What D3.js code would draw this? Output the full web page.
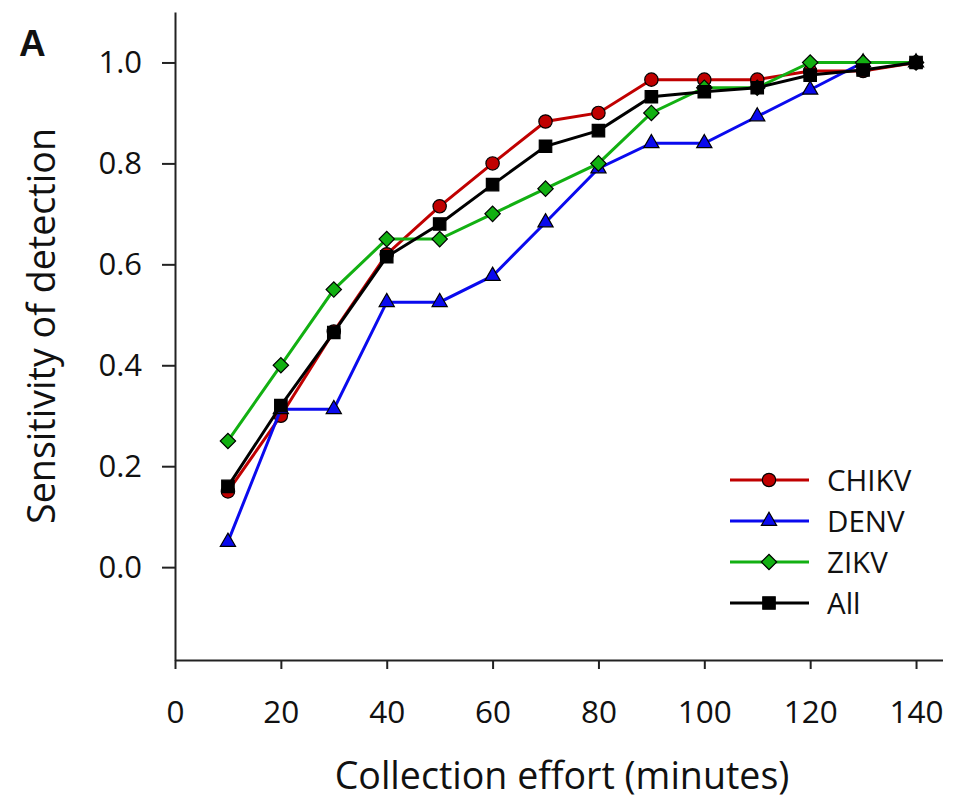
<!DOCTYPE html>
<html>
<head>
<meta charset="utf-8">
<script src="https://cdn.jsdelivr.net/npm/d3@7"></script>
<style>
  body { margin: 0; background: #fff; }
  text { font-family: "Open Sans", sans-serif; fill: #111; }
</style>
</head>
<body>
<svg id="chart" width="959" height="803"></svg>
<script>
// Data
const minutes = [10, 20, 30, 40, 50, 60, 70, 80, 90, 100, 110, 120, 130, 140];
const chikv = [0.15, 0.30, 0.467, 0.62, 0.715, 0.80, 0.883, 0.90, 0.966, 0.966, 0.966, 0.983, 0.983, 1.0];
const denv  = [0.05, 0.313, 0.313, 0.525, 0.525, 0.577, 0.683, 0.79, 0.84, 0.84, 0.893, 0.946, 1.0, 1.0];
const zikv  = [0.25, 0.40, 0.55, 0.65, 0.65, 0.70, 0.75, 0.80, 0.90, 0.95, 0.95, 1.0, 1.0, 1.0];
const all   = [0.16, 0.32, 0.465, 0.615, 0.68, 0.758, 0.834, 0.865, 0.932, 0.942, 0.95, 0.975, 0.985, 1.0];
const xTicks = [0, 20, 40, 60, 80, 100, 120, 140];
const yTicks = [0.0, 0.2, 0.4, 0.6, 0.8, 1.0];

const series = [
    { name: "CHIKV", values: chikv, color: "#c00000", symbol: d3.symbolCircle, size: 140, rot: 0 },
    { name: "DENV",  values: denv,  color: "#0a0aee", symbol: d3.symbolTriangle, size: 100, rot: 0 },
    { name: "ZIKV",  values: zikv,  color: "#12b012", symbol: d3.symbolSquare, size: 118, rot: 45 },
    { name: "All",   values: all,   color: "#000000", symbol: d3.symbolSquare, size: 155, rot: 0 }
];

const svg = d3.select("#chart");

// Scales
const x = d3.scaleLinear().domain([0, 145]).range([175, 942.5]);
const y = d3.scaleLinear().domain([-0.184, 1.1]).range([660, 12]);

// Axes
const xAxis = svg.append("g")
    .attr("transform", "translate(0,660)")
    .call(d3.axisBottom(x).tickValues(xTicks).tickSize(9).tickSizeOuter(0).tickPadding(32));
xAxis.selectAll("text").style("font-size", "31.5px");

const yAxis = svg.append("g")
    .attr("transform", "translate(175,0)")
    .call(d3.axisLeft(y).tickValues(yTicks).tickFormat(d3.format(".1f")).tickSize(13).tickSizeOuter(0).tickPadding(20));
yAxis.selectAll("text").style("font-size", "31px");

svg.selectAll(".domain, .tick line").attr("stroke", "#222").attr("stroke-width", 2);
svg.selectAll(".tick text").attr("fill", "#111");

// Fit a label to a measured width
function fitWidth(sel, target) {
    const w = sel.node().getComputedTextLength();
    const fs = parseFloat(sel.style("font-size"));
    sel.style("font-size", (fs * target / w) + "px");
}

// Axis titles
const xTitle = svg.append("text")
    .attr("x", 562)
    .attr("y", 789)
    .attr("text-anchor", "middle")
    .style("font-size", "34px")
    .text("Collection effort (minutes)");
fitWidth(xTitle, 455);

const yTitle = svg.append("text")
    .attr("transform", "translate(55,326) rotate(-90)")
    .attr("text-anchor", "middle")
    .style("font-size", "34px")
    .text("Sensitivity of detection");
fitWidth(yTitle, 396);

// Panel letter
svg.append("text")
    .attr("x", 19)
    .attr("y", 56)
    .style("font-family", "'Liberation Sans', Arial, sans-serif")
    .style("font-weight", "bold")
    .style("font-size", "37px")
    .text("A");

// Lines and markers
const line = d3.line()
    .x((d, i) => x(minutes[i]))
    .y(d => y(d));

series.forEach(s => {
    const g = svg.append("g");
    g.append("path")
        .datum(s.values)
        .attr("d", line)
        .attr("fill", "none")
        .attr("stroke", s.color)
        .attr("stroke-width", 3);
    g.selectAll("path.marker")
        .data(s.values)
        .enter().append("path")
        .attr("class", "marker")
        .attr("transform", (d, i) => `translate(${x(minutes[i])},${y(d)}) rotate(${s.rot})`)
        .attr("d", d3.symbol().type(s.symbol).size(s.size))
        .attr("fill", s.color)
        .attr("stroke", "#000")
        .attr("stroke-width", 1.2);
});

// Legend
const legend = svg.selectAll(".legend")
    .data(series)
    .enter().append("g")
    .attr("class", "legend")
    .attr("transform", (d, i) => `translate(730,${480 + i * 41})`);

legend.append("line")
    .attr("x1", 0).attr("x2", 79)
    .attr("stroke", d => d.color)
    .attr("stroke-width", 3);

legend.append("path")
    .attr("transform", d => `translate(39,0) rotate(${d.rot})`)
    .attr("d", d => d3.symbol().type(d.symbol).size(d.size)())
    .attr("fill", d => d.color)
    .attr("stroke", "#000")
    .attr("stroke-width", 1.2);

legend.append("text")
    .attr("x", 97)
    .attr("dy", "0.36em")
    .style("font-size", "29.5px")
    .text(d => d.name);
</script>
</body>
</html>
